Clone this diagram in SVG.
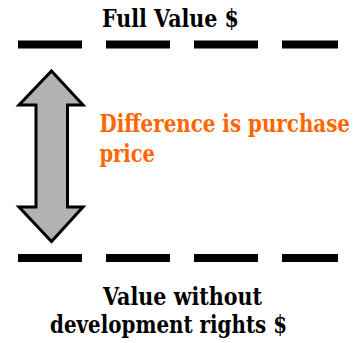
<svg xmlns="http://www.w3.org/2000/svg" width="364" height="343" viewBox="0 0 364 343">
  <style>
    .label { fill: #000; }
    .note { fill: #FF6600; }
    .level { stroke: #000; stroke-width: 8; stroke-dasharray: 64 24; fill: none; }
  </style>
  <rect width="364" height="343" fill="#fff"/>
  <g id="connectors">
    <line class="level" x1="18" y1="44.5" x2="338" y2="44.5"/>
    <line class="level" x1="18" y1="258" x2="338" y2="258"/>
  </g>
  <g id="arrow">
    <path d="M51.5 71 L83 105 L67.5 105 L67.5 207 L83 207 L51.5 241.5 L19 207 L36 207 L36 105 L19 105 Z" fill="#b2b2b2" stroke="#000" stroke-width="3" stroke-linejoin="miter"/>
  </g>
  <!-- condensed serif labels: narrowed horizontally to Times-like widths -->
  <g font-family="DejaVu Serif, serif" font-weight="bold" font-size="24">
    <g id="full-value">
      <text class="label" transform="translate(102 27) scale(0.82 1)" textLength="167" lengthAdjust="spacingAndGlyphs">Full Value $</text>
    </g>
    <g id="difference">
      <text class="note" transform="translate(99.5 132) scale(0.82 1)" textLength="305.5" lengthAdjust="spacingAndGlyphs">Difference is purchase</text>
      <text class="note" transform="translate(99.5 162) scale(0.82 1)" textLength="67.7" lengthAdjust="spacingAndGlyphs">price</text>
    </g>
    <g id="reduced-value">
      <text class="label" transform="translate(103 305) scale(0.82 1)" textLength="194" lengthAdjust="spacingAndGlyphs">Value without</text>
      <text class="label" transform="translate(50 333) scale(0.82 1)" textLength="289" lengthAdjust="spacingAndGlyphs">development rights $</text>
    </g>
  </g>
</svg>
